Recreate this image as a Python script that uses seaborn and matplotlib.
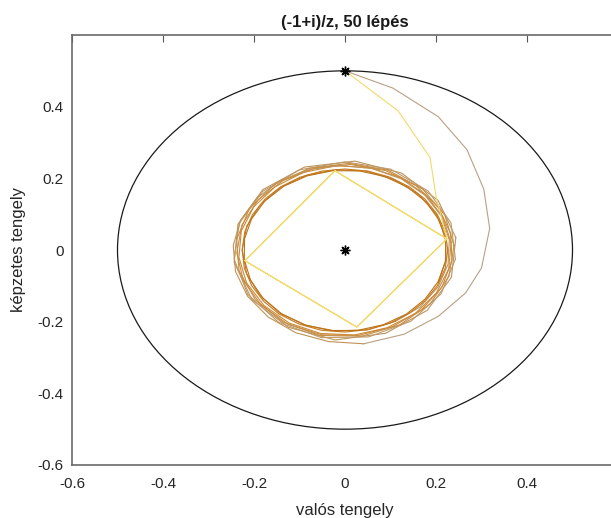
import numpy as np
import pandas as pd
import matplotlib
matplotlib.use("Agg")
import matplotlib.pyplot as plt
from matplotlib.patches import Circle
import seaborn as sns

# --- data -----------------------------------------------------------------
# starting point and origin (asterisks)
star_x = [0.0, 0.0]
star_y = [0.5, 0.0]
circle_radius = 0.5

# large-step trajectory: falls onto a 4-cycle
yellow_x = [0.000, 0.117, 0.187, 0.200, 0.224, -0.022, -0.220, 0.026, 0.224, -0.022, -0.220, 0.026, 0.224]
yellow_y = [0.500, 0.388, 0.258, 0.150, 0.031, 0.221, -0.030, -0.215, 0.031, 0.221, -0.030, -0.215, 0.031]

# small-step trajectory: outer arc
tan_x = [0.000, 0.105, 0.205, 0.268, 0.305, 0.318, 0.300, 0.265, 0.205, 0.130, 0.040]
tan_y = [0.500, 0.452, 0.372, 0.280, 0.170, 0.060, -0.050, -0.120, -0.185, -0.235, -0.262]

# its continuation winding onto the limit ring (angle in degrees, radius)
spiral_deg = [-81, -98, -115, -132, -149, -166, -183, -200, -217, -234, -251, -268, -285,
              -302, -319, -336, -353, -370, -387, -404, -421, -438, -455, -472, -489,
              -506, -523, -540, -557, -574, -591, -608, -625, -642, -659, -676, -693,
              -710, -727, -744]
spiral_r = [0.265, 0.258, 0.255, 0.252, 0.250, 0.248, 0.246, 0.244, 0.242, 0.240, 0.238,
            0.236, 0.235, 0.234, 0.233, 0.232, 0.231, 0.230, 0.229, 0.229, 0.228, 0.228,
            0.227, 0.227, 0.227, 0.226, 0.226, 0.226, 0.226, 0.225, 0.225, 0.225, 0.225,
            0.225, 0.224, 0.224, 0.224, 0.224, 0.224, 0.224]

# intermediate-step trajectories circling the ring
ringA_deg = [8, 34, 60, 85, 111, 137, 163, 188, 214, 240, 265, 291, 317, 342, 368]
ringA_r = [0.246, 0.247, 0.248, 0.249, 0.248, 0.247, 0.246, 0.246, 0.247, 0.249, 0.252,
           0.249, 0.247, 0.246, 0.246]
ringF_deg = [-6, 18, 42, 66, 90, 114, 138, 162, 186, 210, 234, 258, 282, 306, 330, 354]
ringF_r = [0.244, 0.245, 0.246, 0.247, 0.246, 0.245, 0.244, 0.244, 0.245, 0.247, 0.249,
           0.250, 0.248, 0.246, 0.244, 0.244]
ringB_deg = [3, 24, 45, 67, 88, 109, 130, 151, 173, 194, 215, 236, 257, 279, 300, 321, 342, 363]
ringB_r = [0.240, 0.240, 0.241, 0.242, 0.242, 0.241, 0.240, 0.240, 0.240, 0.240, 0.241,
           0.243, 0.245, 0.243, 0.241, 0.240, 0.240, 0.240]
ringG_deg = [11, 30, 49, 68, 87, 106, 125, 144, 163, 182, 201, 220, 239, 258, 277, 296,
             315, 334, 353, 372]
ringG_r = [0.237, 0.237, 0.238, 0.239, 0.239, 0.238, 0.237, 0.237, 0.237, 0.238, 0.239,
           0.240, 0.242, 0.242, 0.240, 0.238, 0.237, 0.237, 0.237, 0.237]
ringC_deg = [5, 23, 41, 59, 77, 95, 113, 131, 149, 167, 185, 203, 221, 239, 257, 275, 293,
             311, 329, 347, 365]
ringC_r = [0.234, 0.234, 0.235, 0.236, 0.236, 0.236, 0.235, 0.234, 0.234, 0.234, 0.234,
           0.235, 0.236, 0.238, 0.239, 0.238, 0.236, 0.235, 0.234, 0.234, 0.234]
ringD_deg = [0, 13, 26, 39, 51, 64, 77, 90, 103, 116, 129, 141, 154, 167, 180, 193, 206,
             219, 231, 244, 257, 270, 283, 296, 309, 321, 334, 347, 360]
ringD_r = [0.226, 0.226, 0.226, 0.226, 0.226, 0.226, 0.226, 0.226, 0.226, 0.226, 0.226,
           0.226, 0.226, 0.226, 0.226, 0.227, 0.228, 0.229, 0.230, 0.230, 0.230, 0.229,
           0.228, 0.227, 0.226, 0.226, 0.226, 0.226, 0.226]
ringE_deg = [7, 22, 37, 52, 67, 82, 97, 112, 127, 142, 157, 172, 187, 202, 217, 232, 247,
             262, 277, 292, 307, 322, 337, 352, 367]
ringE_r = [0.223, 0.223, 0.223, 0.223, 0.223, 0.223, 0.223, 0.223, 0.223, 0.223, 0.223,
           0.223, 0.223, 0.224, 0.225, 0.226, 0.227, 0.227, 0.226, 0.225, 0.224, 0.223,
           0.223, 0.223, 0.223]

title = "(-1+i)/z, 50 lépés"
xlabel = "valós tengely"
ylabel = "képzetes tengely"
xticks = [-0.6, -0.4, -0.2, 0.0, 0.2, 0.4]
xtick_labels = ["-0.6", "-0.4", "-0.2", "0", "0.2", "0.4"]
yticks = [-0.6, -0.4, -0.2, 0.0, 0.2, 0.4]
ytick_labels = ["-0.6", "-0.4", "-0.2", "0", "0.2", "0.4"]


def polar_frame(deg, r):
    t = np.deg2rad(np.asarray(deg, dtype=float))
    rr = np.asarray(r, dtype=float)
    return pd.DataFrame({"x": rr * np.cos(t), "y": rr * np.sin(t)})


# --- figure ---------------------------------------------------------------
sns.set_theme(style="white")
plt.rcParams["font.family"] = ["Liberation Sans", "DejaVu Sans"]

fig = plt.figure(figsize=(6.11, 5.18), dpi=100)
ax = fig.add_axes([72 / 611, 53 / 518, 546 / 611, 430 / 518])

ax.add_patch(Circle((0, 0), circle_radius, fill=False, edgecolor="#1a1a1a", lw=0.9, zorder=1))

lw = 0.8
curves = [
    (polar_frame(ringA_deg, ringA_r), "#b99460"),
    (polar_frame(ringF_deg, ringF_r), "#c09a68"),
    (polar_frame(ringB_deg, ringB_r), "#c48f4a"),
    (polar_frame(ringG_deg, ringG_r), "#c98c3c"),
    (polar_frame(ringC_deg, ringC_r), "#cc8a35"),
    (pd.DataFrame({"x": tan_x, "y": tan_y}), "#b8a084"),
    (polar_frame(spiral_deg[:21], spiral_r[:21]), "#bf9358"),
    (polar_frame(spiral_deg[20:], spiral_r[20:]), "#c27c22"),
    (polar_frame(ringD_deg, ringD_r), "#c47a1e"),
    (polar_frame(ringE_deg, ringE_r), "#bd7318"),
    (pd.DataFrame({"x": yellow_x, "y": yellow_y}), "#f3da6a"),
]
for df, c in curves:
    sns.lineplot(data=df, x="x", y="y", sort=False, estimator=None, color=c, lw=lw, ax=ax)

ax.plot(star_x, star_y, linestyle="none", marker=(8, 2, 0), markersize=7,
        markeredgewidth=1.0, color="black", zorder=5)

ax.set_xlim(-0.6, 0.6)
ax.set_ylim(-0.6, 0.6)
ax.set_xticks(xticks)
ax.set_xticklabels(xtick_labels)
ax.set_yticks(yticks)
ax.set_yticklabels(ytick_labels)
ax.tick_params(direction="in", length=5, width=0.8, colors="#555555",
               labelcolor="#262626", labelsize=11, top=True, right=True)
ax.tick_params(axis="x", pad=9)
ax.tick_params(axis="y", pad=6)
for s in ax.spines.values():
    s.set_color("#6a6a6a")
    s.set_linewidth(1.2)

ax.set_title(title, fontsize=12, fontweight="bold", color="#1a1a1a", pad=6)
ax.set_xlabel(xlabel, fontsize=12, color="#262626", labelpad=8)
ax.set_ylabel(ylabel, fontsize=12, color="#262626", labelpad=8)

fig.savefig("out.png", dpi=100)
